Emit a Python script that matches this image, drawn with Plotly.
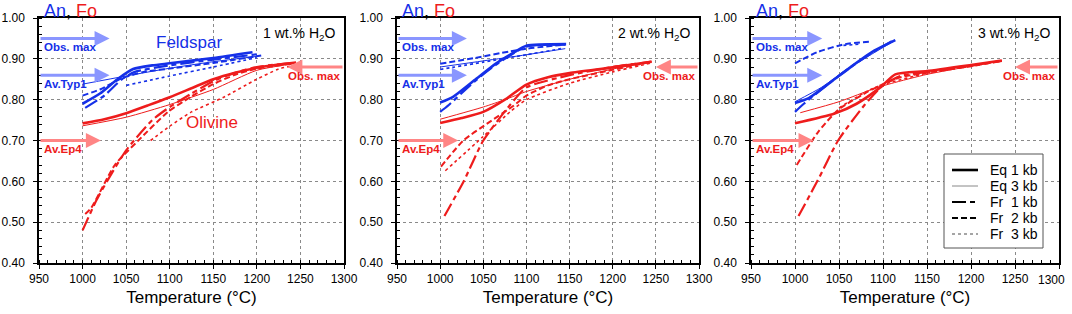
import plotly.graph_objects as go

# ---------------- data (temperature °C, mole fraction) ----------------
# Panel 1: 1 wt.% H2O
P1_AN_EQ1 = [(1000, 0.790), (1020, 0.815), (1040, 0.850), (1058, 0.875), (1080, 0.884), (1100, 0.889), (1150, 0.902), (1195, 0.916)]
P1_AN_EQ3 = [(1000, 0.838), (1050, 0.858), (1100, 0.877), (1150, 0.893), (1200, 0.906)]
P1_AN_FR1 = [(1003, 0.780), (1025, 0.810), (1045, 0.850), (1060, 0.868), (1100, 0.884), (1150, 0.898), (1200, 0.911)]
P1_AN_FR2 = [(1000, 0.810), (1020, 0.825), (1045, 0.852), (1070, 0.868), (1100, 0.876), (1150, 0.890), (1205, 0.908)]
P1_AN_FR3 = [(1050, 0.835), (1100, 0.858), (1150, 0.880), (1200, 0.903)]
P1_FO_EQ1 = [(1000, 0.742), (1025, 0.752), (1050, 0.767), (1075, 0.786), (1100, 0.806), (1125, 0.828), (1150, 0.850), (1175, 0.866), (1200, 0.878), (1225, 0.886), (1245, 0.891)]
P1_FO_EQ3 = [(1000, 0.736), (1050, 0.757), (1100, 0.788), (1150, 0.825), (1200, 0.872), (1245, 0.889)]
P1_FO_FR1 = [(1000, 0.480), (1015, 0.550), (1028, 0.600), (1050, 0.676), (1080, 0.750), (1100, 0.782), (1125, 0.815), (1150, 0.845), (1175, 0.866), (1200, 0.880), (1240, 0.890)]
P1_FO_FR2 = [(1003, 0.520), (1010, 0.535), (1037, 0.640), (1064, 0.700), (1098, 0.770), (1125, 0.808), (1150, 0.838), (1175, 0.861), (1200, 0.876), (1240, 0.888)]
P1_FO_FR3 = [(1078, 0.700), (1100, 0.735), (1125, 0.770), (1163, 0.807), (1198, 0.848), (1225, 0.875), (1250, 0.887)]

# Panel 2: 2 wt.% H2O
P2_AN_EQ1 = [(1000, 0.793), (1015, 0.807), (1040, 0.848), (1065, 0.889), (1085, 0.915), (1100, 0.932), (1146, 0.936)]
P2_AN_EQ3 = [(1000, 0.880), (1050, 0.895), (1100, 0.910), (1145, 0.925)]
P2_AN_FR1 = [(1000, 0.770), (1010, 0.787), (1040, 0.845), (1065, 0.886), (1100, 0.930), (1145, 0.935)]
P2_AN_FR2 = [(1000, 0.888), (1040, 0.902), (1080, 0.918), (1100, 0.925), (1145, 0.935)]
P2_AN_FR3 = [(1000, 0.874), (1050, 0.892), (1100, 0.910), (1140, 0.925)]
P2_FO_EQ1 = [(1000, 0.743), (1025, 0.755), (1050, 0.770), (1075, 0.800), (1100, 0.837), (1125, 0.855), (1150, 0.865), (1200, 0.879), (1245, 0.893)]
P2_FO_EQ3 = [(1000, 0.752), (1050, 0.782), (1075, 0.800), (1100, 0.820), (1150, 0.850), (1200, 0.875), (1245, 0.893)]
P2_FO_FR1 = [(1005, 0.515), (1028, 0.603), (1050, 0.700), (1081, 0.787), (1100, 0.830), (1150, 0.860), (1200, 0.880), (1245, 0.893)]
P2_FO_FR2 = [(1001, 0.636), (1027, 0.700), (1057, 0.745), (1085, 0.785), (1100, 0.810), (1125, 0.835), (1150, 0.850), (1200, 0.873), (1245, 0.893)]
P2_FO_FR3 = [(1006, 0.626), (1050, 0.710), (1081, 0.770), (1100, 0.800), (1150, 0.840), (1200, 0.868), (1245, 0.890)]

# Panel 3: 3 wt.% H2O
P3_AN_EQ1 = [(1000, 0.792), (1015, 0.803), (1040, 0.842), (1064, 0.881), (1090, 0.920), (1114, 0.946)]
P3_AN_EQ3 = [(1000, 0.795), (1030, 0.830), (1060, 0.876), (1090, 0.915), (1112, 0.943)]
P3_AN_FR1 = [(1000, 0.770), (1010, 0.790), (1040, 0.842), (1064, 0.881), (1090, 0.918), (1110, 0.943)]
P3_AN_FR2 = [(1000, 0.889), (1026, 0.917), (1057, 0.936), (1087, 0.942)]
P3_AN_FR3 = [(1055, 0.933), (1075, 0.936)]
P3_FO_EQ1 = [(1000, 0.742), (1045, 0.766), (1070, 0.790), (1098, 0.832), (1114, 0.862), (1150, 0.870), (1200, 0.885), (1235, 0.896)]
P3_FO_EQ3 = [(1006, 0.768), (1050, 0.795), (1091, 0.828), (1110, 0.840), (1150, 0.862), (1200, 0.882), (1235, 0.895)]
P3_FO_FR1 = [(1004, 0.515), (1026, 0.603), (1049, 0.700), (1079, 0.787), (1100, 0.835), (1120, 0.858), (1150, 0.868), (1200, 0.883), (1235, 0.895)]
P3_FO_FR2 = [(1002, 0.640), (1026, 0.720), (1049, 0.775), (1083, 0.820), (1100, 0.838), (1120, 0.855), (1150, 0.866), (1200, 0.882), (1235, 0.895)]
P3_FO_FR3 = [(1050, 0.780), (1083, 0.822), (1100, 0.837), (1150, 0.865), (1200, 0.882), (1235, 0.895)]

# Reference arrow values
OBS_MAX_AN = 0.95
AV_TYP1_AN = 0.86
AV_EP4_FO = 0.70
OBS_MAX_FO = 0.88

PANEL_TITLES = ["1 wt.% H<sub>2</sub>O", "2 wt.% H<sub>2</sub>O", "3 wt.% H<sub>2</sub>O"]
LEGEND_NAMES = ["Eq 1 kb", "Eq 3 kb", "Fr\u00a0\u00a01 kb", "Fr\u00a0\u00a02 kb", "Fr\u00a0\u00a03 kb"]
X_TICKS = [950, 1000, 1050, 1100, 1150, 1200, 1250, 1300]

PANELS = [
    [P1_AN_EQ1, P1_AN_EQ3, P1_AN_FR1, P1_AN_FR2, P1_AN_FR3, P1_FO_EQ1, P1_FO_EQ3, P1_FO_FR1, P1_FO_FR2, P1_FO_FR3],
    [P2_AN_EQ1, P2_AN_EQ3, P2_AN_FR1, P2_AN_FR2, P2_AN_FR3, P2_FO_EQ1, P2_FO_EQ3, P2_FO_FR1, P2_FO_FR2, P2_FO_FR3],
    [P3_AN_EQ1, P3_AN_EQ3, P3_AN_FR1, P3_AN_FR2, P3_AN_FR3, P3_FO_EQ1, P3_FO_EQ3, P3_FO_FR1, P3_FO_FR2, P3_FO_FR3],
]

# ---------------- styles ----------------
BLUE = "#1530e8"
RED = "#ee1c1c"
LBLUE = "#8a96ff"
LRED = "#ff8585"
FONT = "Arial, Liberation Sans, sans-serif"
FR1_DASH = "14px,4px,5px,4px"
STYLES = [
    dict(width=2.6, dash="solid"),
    dict(width=1.0, dash="solid"),
    dict(width=2.2, dash=FR1_DASH),
    dict(width=2.0, dash="6px,3px"),
    dict(width=1.6, dash="dot"),
]
LEG_COLORS = ["#000000", "#888888", "#000000", "#000000", "#888888"]

W, H = 1072, 314
XDOM = [(39 / W, 344 / W), (397 / W, 699 / W), (751 / W, 1059 / W)]
YDOM = ((314 - 263) / H, (314 - 18) / H)
FO_ARROW_HEAD = [1235, 1250, 1250]

fig = go.Figure()

for p, series in enumerate(PANELS):
    xa = "x" if p == 0 else f"x{p+1}"
    ya = "y" if p == 0 else f"y{p+1}"
    for k, s in enumerate(series):
        color = BLUE if k < 5 else RED
        st = STYLES[k % 5]
        fig.add_trace(go.Scatter(
            x=[t for t, _ in s], y=[v for _, v in s], mode="lines",
            line=dict(color=color, width=st["width"], dash=st["dash"], shape="spline", smoothing=0.6),
            xaxis=xa, yaxis=ya, showlegend=False, hoverinfo="skip"))

layout = dict(
    width=W, height=H,
    margin=dict(l=0, r=0, t=0, b=0),
    paper_bgcolor="white", plot_bgcolor="white",
    font=dict(family=FONT, color="black"),
    showlegend=False,
)

for p in range(3):
    sx = "" if p == 0 else str(p + 1)
    # last panel: the right-most tick label is drawn as an annotation so it is not clipped
    tv = X_TICKS if p < 2 else X_TICKS
    tt = [str(t) for t in X_TICKS] if p < 2 else [str(t) for t in X_TICKS[:-1]] + [""]
    layout["xaxis" + sx] = dict(
        domain=list(XDOM[p]), anchor="y" + sx, range=[950, 1300], automargin=False,
        tickvals=tv, ticktext=tt, ticks="outside", ticklen=4, tickcolor="black",
        ticklabeloverflow="allow",
        minor=dict(dtick=10, ticks="inside", ticklen=3, tickcolor="black", showgrid=False),
        showgrid=True, gridcolor="#8a8a8a", griddash="dot", gridwidth=1,
        showline=True, linecolor="black", linewidth=1.5, mirror=True,
        tickfont=dict(size=12), zeroline=False,
        title=dict(text="Temperature (°C)", font=dict(size=17), standoff=6),
    )
    layout["yaxis" + sx] = dict(
        domain=list(YDOM), anchor="x" + sx, range=[0.4, 1.0], automargin=False,
        dtick=0.1, tickformat=".2f", ticks="outside", ticklen=4, tickcolor="black",
        ticklabeloverflow="allow",
        minor=dict(dtick=0.02, ticks="inside", ticklen=3, tickcolor="black", showgrid=False),
        showgrid=True, gridcolor="#8a8a8a", griddash="dot", gridwidth=1,
        showline=True, linecolor="black", linewidth=1.5, mirror=True,
        tickfont=dict(size=12), zeroline=False, ticklabelstandoff=6,
    )

ann = []
shapes = []
for p in range(3):
    xr = "x" if p == 0 else f"x{p+1}"
    yr = "y" if p == 0 else f"y{p+1}"
    ann.append(dict(text=f"<span style='color:{BLUE}'>An</span>, <span style='color:{RED}'>Fo</span>",
                    xref="paper", yref="paper", x=(XDOM[p][0] * W + 3) / W, y=1 - 11 / H,
                    xanchor="left", yanchor="middle", showarrow=False, font=dict(size=18)))
    ann.append(dict(text=PANEL_TITLES[p], xref=xr, yref=yr, x=1292, y=0.962,
                    xanchor="right", yanchor="middle", showarrow=False, font=dict(size=14)))
    arrows = [
        (OBS_MAX_AN, 950, 1031, LBLUE, "Obs. max", BLUE, "left"),
        (AV_TYP1_AN, 950, 1031, LBLUE, "Av.Typ1", BLUE, "left"),
        (AV_EP4_FO, 950, 1021, LRED, "Av.Ep4", RED, "left"),
        (OBS_MAX_FO, 1300, FO_ARROW_HEAD[p], LRED, "Obs. max", RED, "right"),
    ]
    for val, x0, x1, c, lab, lc, side in arrows:
        ann.append(dict(x=x1, y=val, ax=x0, ay=val, xref=xr, yref=yr, axref=xr, ayref=yr,
                        text="", showarrow=True, arrowhead=2, arrowsize=1.0, arrowwidth=3,
                        arrowcolor=c))
        ann.append(dict(text=f"<b>{lab}</b>", xref=xr, yref=yr,
                        x=953 if side == "left" else 1298, y=val - 0.022,
                        xanchor=side, yanchor="middle", showarrow=False,
                        font=dict(size=11.5, color=lc)))

# right-most x tick label of last panel
ann.append(dict(text=str(X_TICKS[-1]), xref="x3", yref="paper", x=X_TICKS[-1], y=1 - 280 / H,
                xanchor="right", yanchor="middle", xshift=8, showarrow=False, font=dict(size=12)))

ann.append(dict(text="Feldspar", xref="x", yref="y", x=1122, y=0.94, showarrow=False,
                font=dict(size=17, color=BLUE), xanchor="center", yanchor="middle"))
ann.append(dict(text="Olivine", xref="x", yref="y", x=1148, y=0.743, showarrow=False,
                font=dict(size=17, color=RED), xanchor="center", yanchor="middle"))

# manual legend (paper coordinates from pixel layout)
def px(xp):
    return xp / W

def py(yp):
    return 1 - yp / H

shapes.append(dict(type="rect", xref="paper", yref="paper", x0=px(944), x1=px(1043),
                   y0=py(248), y1=py(154), line=dict(color="#555", width=1), fillcolor="white",
                   layer="above"))
ROW_Y = [170, 186, 202, 218, 234]
for k in range(5):
    st = STYLES[k]
    shapes.append(dict(type="line", xref="paper", yref="paper", x0=px(952), x1=px(978),
                       y0=py(ROW_Y[k]), y1=py(ROW_Y[k]), layer="above",
                       line=dict(color=LEG_COLORS[k], width=st["width"] if k != 1 else 1,
                                 dash=st["dash"])))
    ann.append(dict(text=LEGEND_NAMES[k], xref="paper", yref="paper", x=px(988), y=py(ROW_Y[k]),
                    xanchor="left", yanchor="middle", showarrow=False, font=dict(size=14)))

layout["annotations"] = ann
layout["shapes"] = shapes

fig.update_layout(**layout)
fig.write_html("out.html", config={"displayModeBar": False},
               post_script="document.body.style.margin='0';document.body.style.overflow='hidden';")
